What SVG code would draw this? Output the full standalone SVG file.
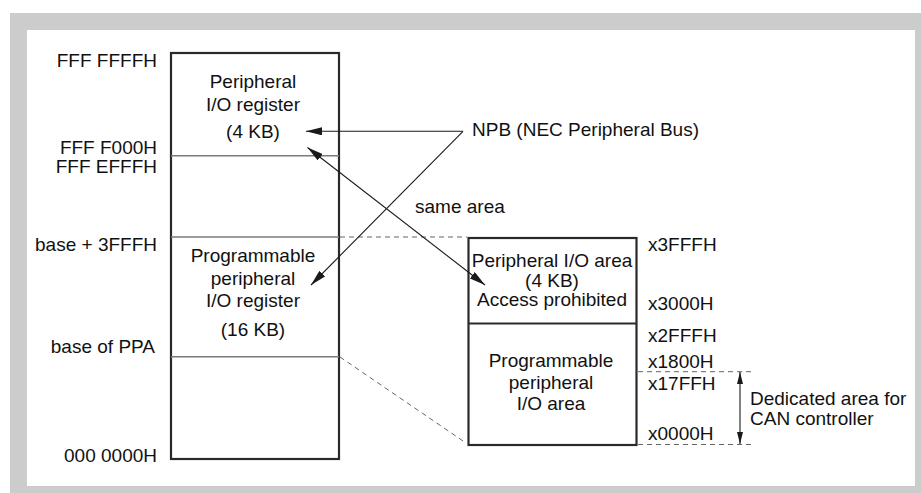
<svg xmlns="http://www.w3.org/2000/svg" width="921" height="493" viewBox="0 0 921 493">
<style>
text{font-family:"Liberation Sans",Arial,sans-serif;font-size:19px;fill:#111111}
.r{text-anchor:end}
.m{text-anchor:middle}
.box{fill:none;stroke:#2a2a2a;stroke-width:2.2}
.div{stroke:#7a7a7a;stroke-width:1.5}
.dash{stroke:#666;stroke-width:1;stroke-dasharray:5,4;fill:none}
.arr{stroke:#1a1a1a;stroke-width:1.1;fill:none}
</style>
<defs>
<marker id="ah" markerUnits="userSpaceOnUse" markerWidth="16" markerHeight="8" refX="14" refY="3.5" orient="auto-start-reverse" viewBox="0 0 14 7">
<path d="M0,0 L14,3.5 L0,7 z" fill="#1a1a1a"/>
</marker>
<marker id="sh" markerUnits="userSpaceOnUse" markerWidth="12" markerHeight="6" refX="10" refY="2.5" orient="auto-start-reverse" viewBox="0 0 10 5">
<path d="M0,0 L10,2.5 L0,5 z" fill="#1a1a1a"/>
</marker>
</defs>
<rect x="10" y="13" width="911" height="480" fill="#cccccc"/>
<rect x="27" y="30" width="888" height="456" fill="#ffffff"/>

<g id="main-map">
<rect class="box" x="171" y="53" width="168" height="406"/>
<line class="div" x1="171" y1="155.7" x2="339" y2="155.7"/>
<line class="div" x1="171" y1="237" x2="339" y2="237"/>
<line class="div" x1="171" y1="356.7" x2="339" y2="356.7"/>
<text class="m" x="253" y="88">Peripheral</text>
<text class="m" x="253" y="111">I/O register</text>
<text class="m" x="253" y="138">(4 KB)</text>
<text class="m" x="253" y="261.5">Programmable</text>
<text class="m" x="253" y="284.5">peripheral</text>
<text class="m" x="253" y="306.5">I/O register</text>
<text class="m" x="253" y="336">(16 KB)</text>
</g>

<g id="main-labels">
<text class="r" x="157" y="67">FFF FFFFH</text>
<text class="r" x="157" y="154">FFF F000H</text>
<text class="r" x="157" y="173">FFF EFFFH</text>
<text class="r" x="157" y="251">base + 3FFFH</text>
<text class="r" x="155" y="353">base of PPA</text>
<text class="r" x="157" y="461.5">000 0000H</text>
</g>

<g id="ppa-map">
<rect class="box" x="468.5" y="238" width="168" height="207"/>
<line class="box" x1="468.5" y1="323.5" x2="636.5" y2="323.5"/>
<text class="m" x="552" y="266.5">Peripheral I/O area</text>
<text class="m" x="552" y="286.5">(4 KB)</text>
<text class="m" x="552" y="306">Access prohibited</text>
<text class="m" x="551" y="366.5">Programmable</text>
<text class="m" x="551" y="388.5">peripheral</text>
<text class="m" x="551" y="410">I/O area</text>
</g>

<g id="ppa-labels">
<text x="648" y="250.5">x3FFFH</text>
<text x="648" y="310">x3000H</text>
<text x="648" y="341.5">x2FFFH</text>
<text x="648" y="368">x1800H</text>
<text x="648" y="390">x17FFH</text>
<text x="648" y="440">x0000H</text>
</g>

<g id="npb-label">
<text x="472" y="136">NPB (NEC Peripheral Bus)</text>
</g>
<g id="same-area-label">
<text x="415" y="213">same area</text>
</g>
<g id="can-label">
<text x="750" y="405">Dedicated area for</text>
<text x="750" y="425">CAN controller</text>
</g>

<g id="connectors">
<line class="dash" x1="340" y1="237" x2="467" y2="237"/>
<line class="dash" x1="340" y1="357" x2="466" y2="443"/>
<line class="dash" x1="638" y1="371.7" x2="752" y2="371.7"/>
<line class="dash" x1="638" y1="444.5" x2="755" y2="444.5"/>
<line class="arr" x1="463" y1="131.3" x2="306" y2="131.3" marker-end="url(#ah)"/>
<line class="arr" x1="463" y1="131.3" x2="311" y2="285" marker-end="url(#ah)"/>
<line class="arr" x1="307.5" y1="147.5" x2="485" y2="285" marker-start="url(#ah)" marker-end="url(#ah)"/>
<line class="arr" x1="740" y1="372" x2="740" y2="444" marker-start="url(#sh)" marker-end="url(#sh)"/>
</g>
</svg>
